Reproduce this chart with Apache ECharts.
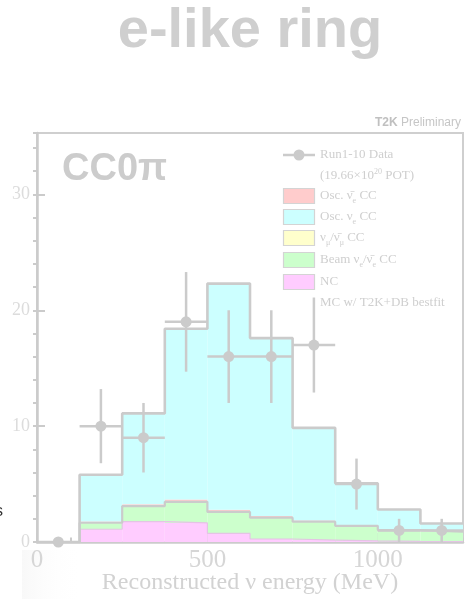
<!DOCTYPE html>
<html>
<head>
<meta charset="utf-8">
<script src="https://cdn.jsdelivr.net/npm/echarts@6/dist/echarts.min.js"></script>
<style>
html,body{margin:0;padding:0;background:#fff;}
#chart{width:474px;height:599px;}
</style>
</head>
<body>
<div id="chart"></div>
<script>
// ---- data ----
const binLow = [125, 250, 375, 500, 625, 750, 875, 1000, 1125];
const binWidth = 125;
const ncVals        = [1.10, 1.75, 1.65, 0.75, 0.26, 0.17, 0.10, 0.05, 0.03];
const beamNueVals   = [0.56, 1.35, 1.82, 1.85, 1.84, 1.58, 1.30, 0.98, 0.86];
const numuVals      = [0.04, 0.04, 0.04, 0.04, 0.03, 0.03, 0.02, 0.02, 0.02];
const oscNuebarVals = [0.08, 0.12, 0.15, 0.15, 0.12, 0.08, 0.05, 0.03, 0.02];
const oscNueVals    = [4.02, 7.84, 14.74, 19.51, 15.35, 7.99, 3.59, 1.72, 0.67];

const dataX   = [62.5, 187.5, 312.5, 437.5, 562.5, 687.5, 812.5, 937.5, 1062.5, 1187.5];
const dataY   = [0, 10, 9, 19, 16, 16, 17, 5, 1, 1];
const dataErr = [0, 3.2, 3.0, 4.3, 4.0, 4.0, 4.1, 2.2, 1.0, 1.0];

const xMajorTicks = [0, 500, 1000];
const yMajorTicks = [0, 10, 20, 30];

const GRAY = '#cbcbcb';
const SERIF = '"Liberation Serif","DejaVu Serif",serif';
const SANS = '"Liberation Sans",Arial,sans-serif';

// ---- build stacks ----
const components = [
  {vals: ncVals, color: '#ffccff', line: '#e4c4e4', lw: 1.2},
  {vals: beamNueVals, color: '#ccffcc', line: GRAY, lw: 2.2},
  {vals: numuVals, color: '#ffffcc', line: null},
  {vals: oscNuebarVals, color: '#ffcccc', line: null},
  {vals: oscNueVals, color: '#ccffff', line: GRAY, lw: 2.6}
];
const base = binLow.map(() => 0);
const series = [];
components.forEach((c, ci) => {
  const rows = binLow.map((lo, i) => {
    const b = base[i];
    const t = b + c.vals[i];
    base[i] = t;
    return [lo, lo + binWidth, b, t];
  });
  series.push({
    type: 'custom', z: 2 + ci, silent: true, clip: true,
    encode: {x: [0, 1], y: [2, 3]},
    data: rows,
    renderItem: (params, api) => {
      const p0 = api.coord([api.value(0), api.value(3)]);
      const p1 = api.coord([api.value(1), api.value(2)]);
      return {type: 'rect', shape: {x: p0[0], y: p0[1], width: p1[0] - p0[0], height: p1[1] - p0[1]},
              style: {fill: c.color}};
    }
  });
  if (c.line) {
    const pts = [[binLow[0], 0]];
    rows.forEach(r => { pts.push([r[0], r[3]]); pts.push([r[1], r[3]]); });
    series.push({
      type: 'line', z: 10 + ci, silent: true, symbol: 'none', clip: true,
      data: pts, lineStyle: {color: c.line, width: c.lw}
    });
  }
});

// data points with error bars
series.push({
  type: 'custom', z: 30, silent: true, clip: false,
  encode: {x: 0, y: 1},
  data: dataX.map((x, i) => [x, dataY[i], dataErr[i], binWidth / 2]),
  renderItem: (params, api) => {
    const x = api.value(0), y = api.value(1), e = api.value(2), hw = api.value(3);
    const c = api.coord([x, y]);
    const top = api.coord([x, y + e]);
    const bot = api.coord([x, y - e]);
    const l = api.coord([x - hw, y]);
    const r = api.coord([x + hw, y]);
    const st = {stroke: GRAY, lineWidth: 2.5};
    return {type: 'group', children: [
      {type: 'line', shape: {x1: c[0], y1: top[1], x2: c[0], y2: bot[1]}, style: st},
      {type: 'line', shape: {x1: l[0], y1: c[1], x2: r[0], y2: c[1]}, style: st},
      {type: 'circle', shape: {cx: c[0], cy: c[1], r: 5.5}, style: {fill: GRAY}}
    ]};
  }
});

// ---- legend (drawn as graphics) ----
const legX = 320;
const rich = {
  sub: {fontSize: 8, fontFamily: SERIF, color: '#d2d2d2', verticalAlign: 'bottom', lineHeight: 9},
  sup: {fontSize: 8, fontFamily: SERIF, color: '#d2d2d2', verticalAlign: 'top', lineHeight: 9}
};
const legendItems = [
  {y: 155, text: 'Run1-10 Data', marker: 'data'},
  {y: 176, text: '(19.66×10{sup|20} POT)'},
  {y: 196, text: 'Osc. ν\u0304{sub|e} CC', box: '#ffcccc'},
  {y: 217, text: 'Osc. ν{sub|e} CC', box: '#ccffff'},
  {y: 238, text: 'ν{sub|μ}/ν\u0304{sub|μ} CC', box: '#ffffcc'},
  {y: 260, text: 'Beam ν{sub|e}/ν\u0304{sub|e} CC', box: '#ccffcc'},
  {y: 282, text: 'NC', box: '#ffccff'},
  {y: 303, text: 'MC w/ T2K+DB bestfit'}
];
const graphics = [];
legendItems.forEach(it => {
  graphics.push({type: 'text', z: 50, style: {
    text: it.text, x: legX, y: it.y, textVerticalAlign: 'middle', verticalAlign: 'middle',
    font: '13px ' + SERIF, fill: '#cfcfcf', lineHeight: 17, rich: rich
  }});
  if (it.box) {
    graphics.push({type: 'rect', z: 49, shape: {x: 283.5, y: it.y - 7.5, width: 31, height: 15},
      style: {fill: it.box, stroke: '#d4d4d4', lineWidth: 1.2}});
  }
  if (it.marker === 'data') {
    graphics.push({type: 'line', z: 49, shape: {x1: 283, y1: it.y, x2: 315, y2: it.y}, style: {stroke: GRAY, lineWidth: 2.5}});
    graphics.push({type: 'circle', z: 49, shape: {cx: 299, cy: it.y, r: 5.5}, style: {fill: GRAY}});
  }
});
// titles
graphics.push({type: 'text', z: 50, style: {text: 'e-like ring', x: 250, y: 32, textAlign: 'center', align: 'center',
  textVerticalAlign: 'middle', verticalAlign: 'middle', font: 'bold 56px ' + SANS, fill: '#cfcfcf'}});
graphics.push({type: 'text', z: 50, style: {text: 'CC0π', x: 62, y: 170, textVerticalAlign: 'middle', verticalAlign: 'middle',
  font: 'bold 38px ' + SANS, fill: '#cccccc'}});
graphics.push({type: 'text', z: 50, style: {text: '{b|T2K} Preliminary', x: 461, y: 123, textAlign: 'right', align: 'right',
  textVerticalAlign: 'middle', verticalAlign: 'middle', font: '12px ' + SANS, fill: '#c6c6c6',
  rich: {b: {fontWeight: 'bold', fontSize: 12, fontFamily: SANS, fill: '#c0c0c0', color: '#c0c0c0'}}}});
// faint slide artefacts
graphics.push({type: 'rect', z: 0, shape: {x: 22, y: 550, width: 60, height: 49},
  style: {fill: {type: 'linear', x: 0, y: 0, x2: 1, y2: 0, colorStops: [{offset: 0, color: 'rgba(240,240,240,0.45)'}, {offset: 1, color: 'rgba(255,255,255,0)'}]}}});
graphics.push({type: 'text', z: 50, style: {text: 's', x: -5, y: 512, textVerticalAlign: 'middle', verticalAlign: 'middle',
  font: '16px ' + SANS, fill: '#333'}});

const chart = echarts.init(document.getElementById('chart'), null, {renderer: 'canvas'});
chart.setOption({
  animation: false,
  backgroundColor: '#ffffff',
  grid: {left: 37, right: 11, top: 133, bottom: 57, show: true, borderColor: '#cfcfcf', borderWidth: 2,
         backgroundColor: 'transparent', containLabel: false, outerBoundsMode: 'none'},
  xAxis: [
    {type: 'value', min: 0, max: 1250, interval: 500, position: 'bottom',
     axisLine: {show: true, lineStyle: {color: GRAY, width: 2.5}},
     axisTick: {show: true, inside: true, length: 9, lineStyle: {color: GRAY, width: 2}},
     axisLabel: {show: true, showMaxLabel: false, margin: 6, fontSize: 25, fontFamily: SERIF, color: '#d6d6d6',
       formatter: v => (xMajorTicks.indexOf(v) >= 0 ? String(v) : '')},
     splitLine: {show: false},
     name: 'Reconstructed ν energy (MeV)', nameLocation: 'middle', nameGap: 29, nameMoveOverlap: false,
     nameTextStyle: {fontSize: 24, fontFamily: SERIF, color: '#d2d2d2'}},
    {type: 'value', min: 0, max: 1250, interval: 100, position: 'bottom',
     axisLine: {show: false}, axisLabel: {show: false}, splitLine: {show: false},
     axisTick: {show: true, inside: true, length: 4.5, lineStyle: {color: GRAY, width: 2}}}
  ],
  yAxis: [
    {type: 'value', min: 0, max: 35.3, interval: 10,
     axisLine: {show: true, lineStyle: {color: GRAY, width: 2.5}},
     axisTick: {show: true, inside: true, length: 8, lineStyle: {color: GRAY, width: 2}},
     axisLabel: {show: true, showMaxLabel: false, margin: 7, fontSize: 18, fontFamily: SERIF, color: '#dcdcdc',
       formatter: v => (yMajorTicks.indexOf(v) >= 0 ? String(v) : '')},
     splitLine: {show: false}},
    {type: 'value', min: 0, max: 35.3, interval: 2,
     axisLine: {show: false}, axisLabel: {show: false}, splitLine: {show: false},
     axisTick: {show: true, inside: true, length: 4, lineStyle: {color: GRAY, width: 2}}}
  ],
  series: series,
  graphic: {elements: graphics}
});
</script>
</body>
</html>
